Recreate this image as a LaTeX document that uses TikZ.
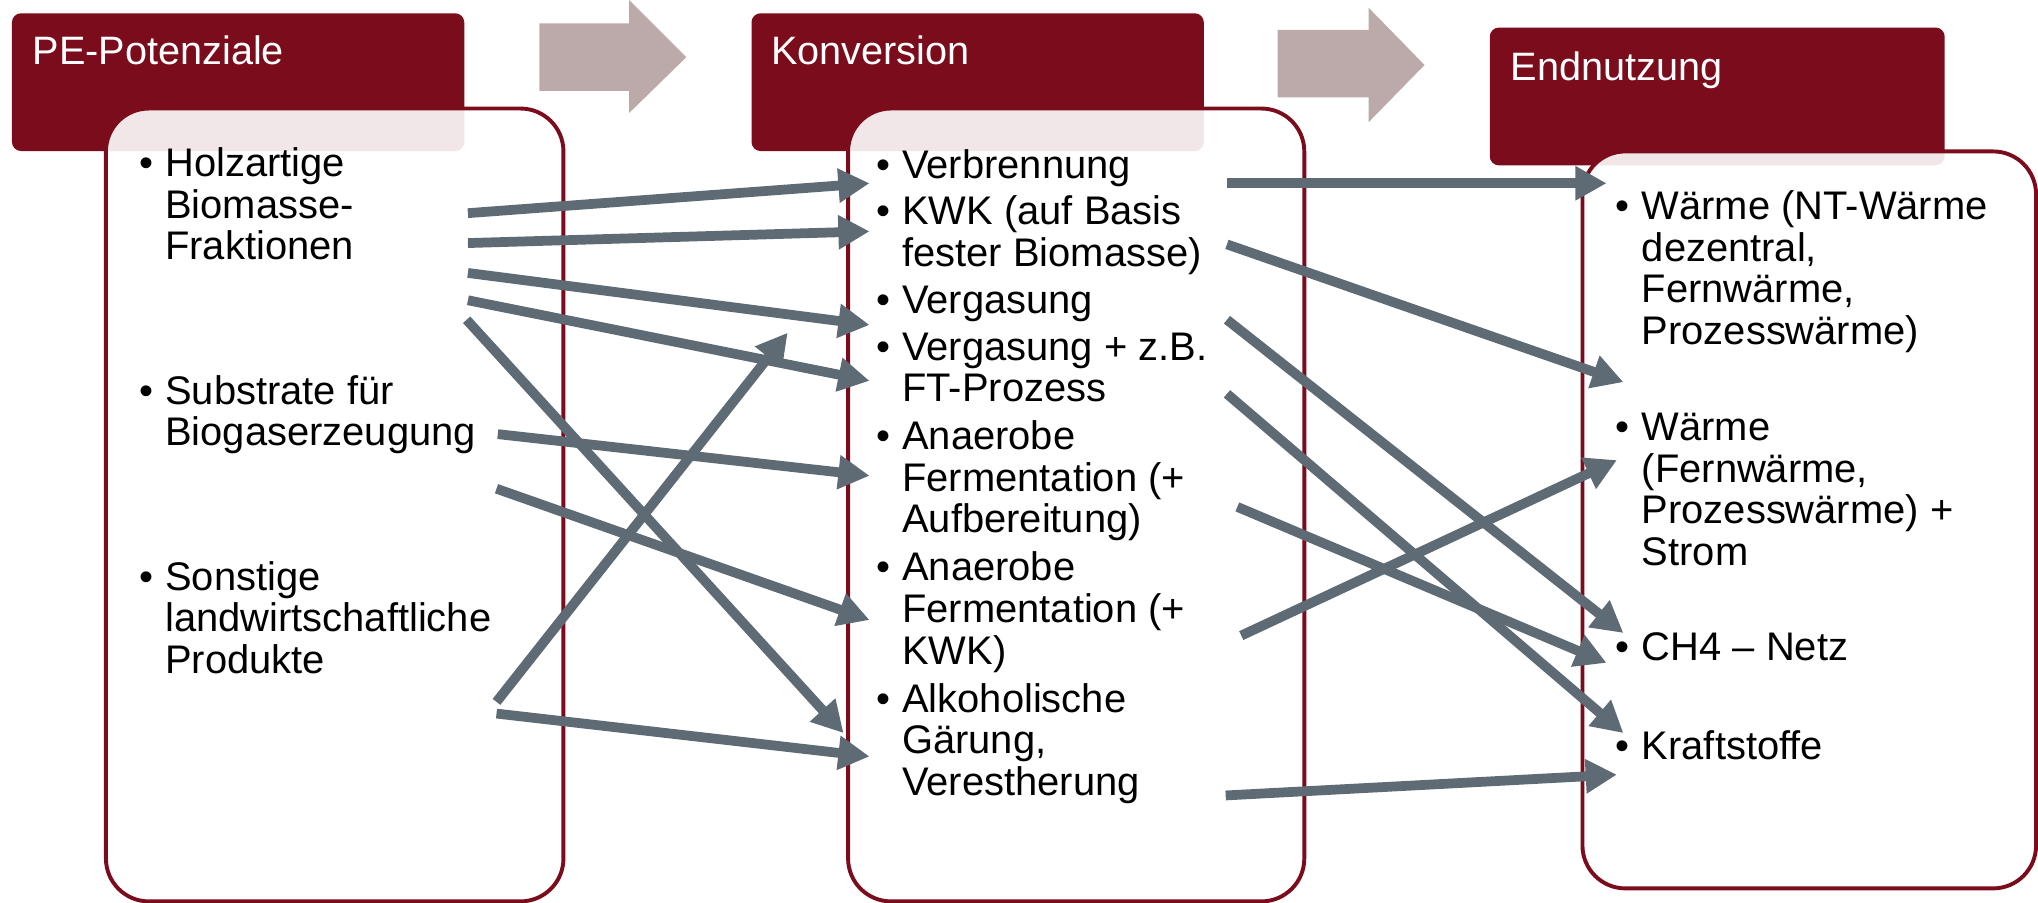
\documentclass[tikz,border=0pt]{standalone}
\usepackage{fontspec}
\setmainfont{Liberation Sans}
\usetikzlibrary{arrows.meta}
\definecolor{dred}{HTML}{7B0C1C}
\definecolor{conncol}{HTML}{5E6B74}
\definecolor{blkcol}{HTML}{BCA9A9}
\newcommand\Itm[4]{\node[itm] (#1) at (#2,#3) {\makebox[20pt][l]{•}\vtop{#4}};}
\tikzset{
  hdrbox/.style={fill=dred, draw=none, rounded corners=7pt, anchor=north west, inner sep=0pt},
  hdrtxt/.style={text=white, anchor=base west, inner sep=0pt, font=\fontsize{30.5}{32}\selectfont},
  bodybox/.style={fill=white, fill opacity=0.9, draw=dred, line width=3pt, rounded corners=33pt, anchor=north west, inner sep=0pt},
  itm/.style={anchor=base west, inner sep=0pt, text=black, font=\fontsize{30.7}{32}\selectfont},
  conn/.style={draw=conncol, line width=7.5pt, -{Triangle[length=24pt,width=25pt]}},
  blkarrow/.style={fill=blkcol, draw=none}
}
\begin{document}
\begin{tikzpicture}[x=1pt,y=-1pt]
\useasboundingbox (0,0) rectangle (1568,694);
% headers
\node[hdrbox, minimum width=348pt, minimum height=106pt] (h1) at (9,10) {};
\node[hdrbox, minimum width=348pt, minimum height=106pt] (h2) at (578,10) {};
\node[hdrbox, minimum width=350pt, minimum height=106pt] (h3) at (1146,21) {};
\node[hdrtxt] (h1t) at (25,50) {PE-Potenziale};
\node[hdrtxt] (h2t) at (593,50) {Konversion};
\node[hdrtxt] (h3t) at (1162,62) {Endnutzung};
% bodies
\node[bodybox, minimum width=352pt, minimum height=610pt] (b1) at (80,82) {};
\node[bodybox, minimum width=351pt, minimum height=610pt] (b2) at (651,82) {};
\node[bodybox, minimum width=349pt, minimum height=567pt] (b3) at (1216,115) {};
% block arrows
\fill[blkarrow] (415,18) -- (484,18) -- (484,0) -- (528,44) -- (484,87) -- (484,70) -- (415,70) -- cycle;
\fill[blkarrow] (983,23) -- (1053,23) -- (1053,6) -- (1096,50) -- (1053,94) -- (1053,75) -- (983,75) -- cycle;
% items
\Itm{p1}{107}{136}{\hbox{Holzartige}\hbox{Biomasse-}\hbox{Fraktionen}}
\Itm{p2}{107}{311}{\hbox{Substrate für}\hbox{Biogaserzeugung}}
\Itm{p3}{107}{454}{\hbox{Sonstige}\hbox{landwirtschaftliche}\hbox{Produkte}}
\Itm{k1}{674}{137}{\hbox{Verbrennung}}
\Itm{k2}{674}{173}{\hbox{KWK (auf Basis}\hbox{fester Biomasse)}}
\Itm{k3}{674}{241}{\hbox{Vergasung}}
\Itm{k4}{674}{277}{\hbox{Vergasung + z.B.}\hbox{FT-Prozess}}
\Itm{k5}{674}{346}{\hbox{Anaerobe}\hbox{Fermentation (+}\hbox{Aufbereitung)}}
\Itm{k6}{674}{447}{\hbox{Anaerobe}\hbox{Fermentation (+}\hbox{KWK)}}
\Itm{k7}{674}{548}{\hbox{Alkoholische}\hbox{Gärung,}\hbox{Verestherung}}
\Itm{e1}{1243}{169}{\hbox{Wärme (NT-Wärme}\hbox{dezentral,}\hbox{Fernwärme,}\hbox{Prozesswärme)}}
\Itm{e2}{1243}{339}{\hbox{Wärme}\hbox{(Fernwärme,}\hbox{Prozesswärme) +}\hbox{Strom}}
\Itm{e3}{1243}{508}{\hbox{CH4 – Netz}}
\Itm{e4}{1243}{584}{\hbox{Kraftstoffe}}
% connector end points
\coordinate (c1s) at (360,164);  \coordinate (c1e) at (669,141);
\coordinate (c2s) at (360,187);  \coordinate (c2e) at (669,178);
\coordinate (c3s) at (360,210);  \coordinate (c3e) at (669,250);
\coordinate (c4s) at (360,231);  \coordinate (c4e) at (669,293);
\coordinate (c5s) at (359,246);  \coordinate (c5e) at (649,564);
\coordinate (c6s) at (383,334);  \coordinate (c6e) at (669,366);
\coordinate (c7s) at (382,376);  \coordinate (c7e) at (669,477);
\coordinate (c8s) at (382,540);  \coordinate (c8e) at (606,256);
\coordinate (c9s) at (382,549);  \coordinate (c9e) at (669,582);
\coordinate (c10s) at (944,141); \coordinate (c10e) at (1236,141);
\coordinate (c11s) at (944,188); \coordinate (c11e) at (1249,294);
\coordinate (c12s) at (944,246); \coordinate (c12e) at (1249,487);
\coordinate (c13s) at (944,303); \coordinate (c13e) at (1249,564);
\coordinate (c14s) at (952,390); \coordinate (c14e) at (1236,510);
\coordinate (c15s) at (955,489); \coordinate (c15e) at (1244,354);
\coordinate (c16s) at (943,612); \coordinate (c16e) at (1244,596);
% connectors
\foreach \i in {1,...,16} { \draw[conn] (c\i s) -- (c\i e); }
\end{tikzpicture}
\end{document}
